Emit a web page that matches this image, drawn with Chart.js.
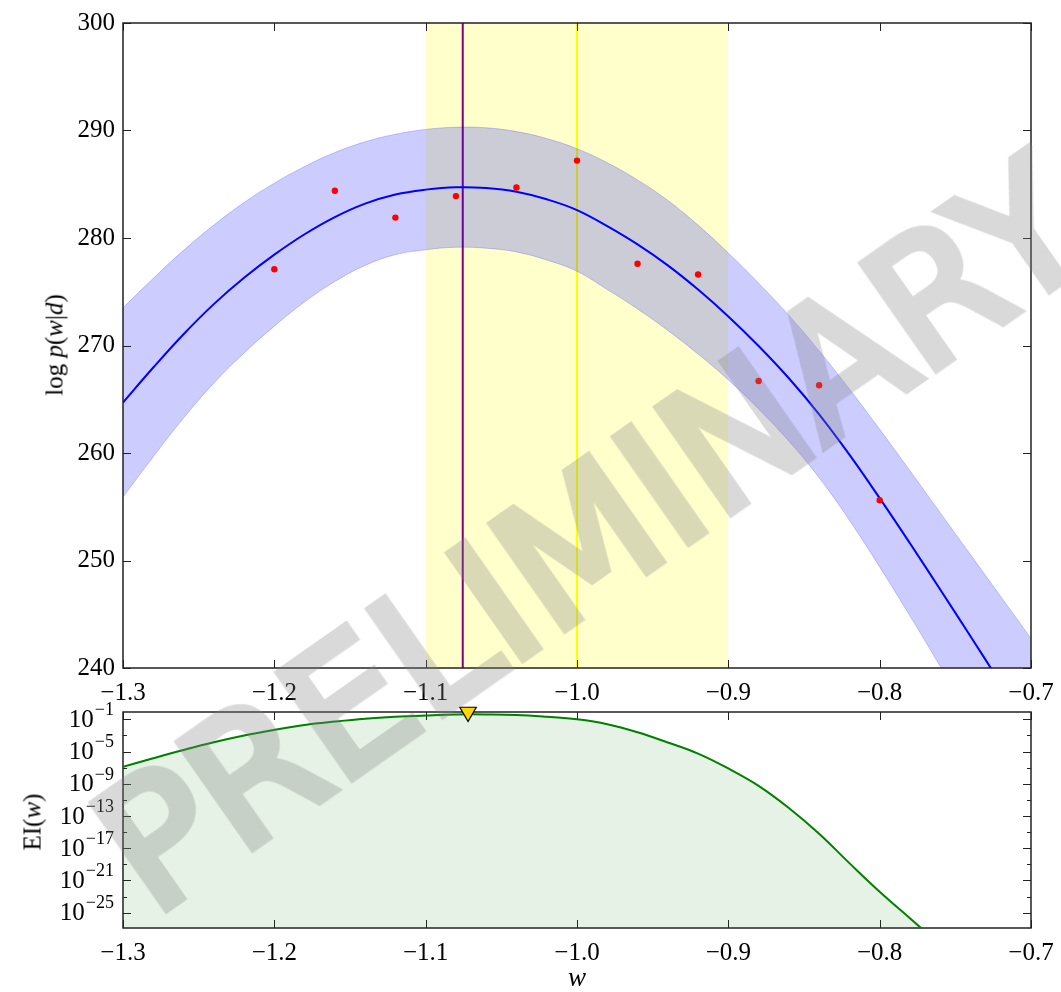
<!DOCTYPE html>
<html>
<head>
<meta charset="utf-8">
<script src="https://cdn.jsdelivr.net/npm/chart.js@4.4.1/dist/chart.umd.min.js"></script>
<style>
  html, body { margin: 0; padding: 0; background: #fff; }
  #wrap { position: relative; width: 1061px; height: 992px; overflow: hidden; }
  #top { position: absolute; left: 0; top: 0; }
  #bot { position: absolute; left: 0; top: 700px; }
  .ylab {
    position: absolute; transform: translate(-50%, -50%) rotate(-90deg);
    font-family: "Liberation Serif", "DejaVu Serif", serif; font-size: 25px; line-height: 1;
    color: #000; white-space: nowrap;
  }
  #mark {
    position: absolute; left: 592px; top: 536px;
    transform: translate(-50%, -50%) rotate(-35deg);
    font-family: "DejaVu Sans"; font-size: 175px; line-height: 1;
    color: #808080; -webkit-text-stroke: 9px #808080; opacity: 0.3;
    white-space: nowrap; pointer-events: none;
  }
</style>
</head>
<body>
<div id="wrap">
  <canvas id="top" width="1061" height="705"></canvas>
  <canvas id="bot" width="1061" height="292"></canvas>
  <div class="ylab" style="left:54px; top:345px;">log <i>p</i>(<i>w</i>|<i>d</i>)</div>
  <div class="ylab" style="left:32px; top:822px;">EI(<i>w</i>)</div>
  <div id="mark">PRELIMINARY</div>
</div>
<script>
// grid of w where the posterior curves were read
const wGrid = [-1.30, -1.28, -1.26, -1.24, -1.22, -1.20, -1.18, -1.16, -1.14, -1.12, -1.10,
  -1.08, -1.06, -1.04, -1.02, -1.00, -0.98, -0.96, -0.94, -0.92, -0.90,
  -0.88, -0.86, -0.84, -0.82, -0.80, -0.78, -0.76, -0.74, -0.72, -0.70];
const meanLogP = [264.7, 267.95, 271.05, 273.85, 276.3, 278.45, 280.35, 281.95, 283.2, 284.05, 284.5,
  284.72, 284.65, 284.3, 283.6, 282.6, 281.1, 279.4, 277.45, 275.2, 272.7,
  269.95, 266.95, 263.6, 259.85, 255.8, 251.6, 247.3, 242.95, 238.55, 234.1];
const upperLogP = [273.5, 276.25, 278.85, 281.2, 283.3, 285.1, 286.65, 287.95, 288.95, 289.65, 290.1,
  290.3, 290.25, 289.9, 289.25, 288.3, 287.0, 285.4, 283.5, 281.2, 278.6,
  275.8, 272.8, 269.5, 265.95, 262.2, 258.35, 254.45, 250.55, 246.65, 242.75];
const lowerLogP = [255.9, 259.65, 263.25, 266.5, 269.3, 271.8, 274.05, 275.95, 277.45, 278.45, 278.9,
  279.14, 279.05, 278.7, 277.95, 276.9, 275.2, 273.4, 271.4, 269.2, 266.8,
  264.1, 261.1, 257.7, 253.75, 249.4, 244.85, 240.15, 235.35, 230.45, 225.45];

// observed samples (red dots)
const obsW = [-1.20, -1.16, -1.12, -1.08, -1.04, -1.00, -0.96, -0.92, -0.88, -0.84, -0.80];
const obsLogP = [277.1, 284.4, 281.9, 283.9, 284.7, 287.2, 277.6, 276.6, 266.7, 266.3, 255.6];

// expected improvement, log10 values
const eiLog10 = [-6.9, -5.83, -4.8, -3.84, -3.0, -2.3, -1.69, -1.27, -0.92, -0.68, -0.52,
  -0.40, -0.39, -0.45, -0.68, -1.0, -1.6, -2.6, -3.87, -5.25, -7.1,
  -9.25, -12.0, -15.2, -18.85, -22.4, -25.7, -29.0, -32.4, -35.8, -39.2];

const spanW = [-1.1, -0.9];
const bestW = -1.0755;
const currentW = -1.0;
const nextW = -1.072;

const xTicks = [-1.3, -1.2, -1.1, -1.0, -0.9, -0.8, -0.7];
const yTicksTop = [240, 250, 260, 270, 280, 290, 300];
const eiTickExp = [-1, -5, -9, -13, -17, -21, -25];
const eiMinorExp = [-3, -7, -11, -15, -19, -23];
const eiRange = [-26.9, -0.09];

const SERIF = '"Liberation Serif", "DejaVu Serif", serif';
const pts = (xs, ys) => xs.map((x, i) => ({ x: x, y: ys[i] }));
const fmtW = v => (v < 0 ? '\u2212' : '') + Math.abs(v).toFixed(1);

function drawFrame(chart, opts) {
  const { ctx, chartArea: a } = chart;
  const xs = chart.scales.x, ys = chart.scales.y;
  ctx.save();
  ctx.strokeStyle = '#222';
  ctx.lineWidth = 1;
  ctx.beginPath();
  xTicks.forEach(v => {
    const p = Math.round(xs.getPixelForValue(v)) + 0.5;
    ctx.moveTo(p, a.bottom); ctx.lineTo(p, a.bottom - 8);
    ctx.moveTo(p, a.top); ctx.lineTo(p, a.top + 8);
  });
  const yt = (v, len) => {
    const p = Math.round(ys.getPixelForValue(v)) + 0.5;
    ctx.moveTo(a.left, p); ctx.lineTo(a.left + len, p);
    ctx.moveTo(a.right, p); ctx.lineTo(a.right - len, p);
  };
  opts.yMajor.forEach(v => yt(v, 8));
  (opts.yMinor || []).forEach(v => yt(v, 4));
  ctx.stroke();
  ctx.lineWidth = 1.5;
  ctx.strokeRect(a.left, a.top, a.width, a.height);
  ctx.restore();
}

const frameTicks = {
  id: 'frameTicks',
  beforeDatasetsDraw(chart, args, opts) { if (opts.under) drawFrame(chart, opts); },
  afterDatasetsDraw(chart, args, opts) { if (!opts.under) drawFrame(chart, opts); }
};

// log tick labels drawn as 10 with a raised exponent
const logLabels = {
  id: 'logLabels',
  afterDraw(chart) {
    const ys = chart.scales.y, ctx = chart.ctx;
    ctx.save();
    ctx.fillStyle = '#000';
    ctx.textAlign = 'right';
    ctx.textBaseline = 'middle';
    eiTickExp.forEach(e => {
      const p = ys.getPixelForValue(Math.pow(10, e));
      const sup = '\u2212' + Math.abs(e);
      ctx.font = '18px ' + SERIF;
      const sw = ctx.measureText(sup).width;
      ctx.fillText(sup, 114, p - 9);
      ctx.font = '25px ' + SERIF;
      ctx.fillText('10', 113 - sw, p + 1);
    });
    ctx.restore();
  }
};

const xScale = (h, title) => ({
  type: 'linear', min: -1.3, max: -0.7,
  afterBuildTicks: s => { s.ticks = xTicks.map(v => ({ value: v })); },
  afterFit: s => { s.height = h; s.paddingLeft = 0; s.paddingRight = 0; },
  grid: { display: false, drawTicks: false },
  border: { display: false },
  ticks: { padding: 10, autoSkip: false, maxRotation: 0, color: '#000',
    font: { family: SERIF, size: 25 }, callback: v => fmtW(v) },
  title: title
});

new Chart(document.getElementById('top'), {
  type: 'line',
  data: {
    datasets: [
      { data: pts(obsW, obsLogP), showLine: false, pointRadius: 3.2, pointBackgroundColor: '#ff0000',
        pointBorderWidth: 0, order: 0 },
      { data: pts(wGrid, meanLogP), borderColor: '#0000ff', borderWidth: 2, pointRadius: 0,
        tension: 0.4, order: 1 },
      { data: pts(wGrid, upperLogP), borderColor: 'rgba(0,0,255,0.2)', borderWidth: 1, pointRadius: 0,
        backgroundColor: 'rgba(0,0,255,0.2)', fill: '+1', tension: 0.4, order: 2 },
      { data: pts(wGrid, lowerLogP), borderColor: 'rgba(0,0,255,0.2)', borderWidth: 1, pointRadius: 0,
        fill: false, tension: 0.4, order: 2 },
      { data: [{ x: bestW, y: 240 }, { x: bestW, y: 300 }], borderColor: '#800080', borderWidth: 2,
        pointRadius: 0, order: 3 },
      { data: [{ x: currentW, y: 240 }, { x: currentW, y: 300 }], borderColor: '#ffff00', borderWidth: 2,
        pointRadius: 0, order: 3 },
      { data: [{ x: spanW[0], y: 300 }, { x: spanW[1], y: 300 }], borderWidth: 0, pointRadius: 0,
        backgroundColor: 'rgba(255,255,0,0.2)', fill: 'start', order: 4 }
    ]
  },
  options: {
    responsive: false, animation: false, events: [],
    layout: { padding: { top: 21, right: 30, left: 0, bottom: 0 } },
    plugins: { legend: { display: false }, tooltip: { enabled: false },
      frameTicks: { under: false, yMajor: yTicksTop } },
    scales: {
      x: xScale(37, { display: false }),
      y: {
        type: 'linear', min: 240, max: 300,
        afterBuildTicks: s => { s.ticks = yTicksTop.map(v => ({ value: v })); },
        afterFit: s => { s.width = 123; },
        grid: { display: false, drawTicks: false },
        border: { display: false },
        ticks: { padding: 8, color: '#000', font: { family: SERIF, size: 25 } }
      }
    }
  },
  plugins: [frameTicks]
});

new Chart(document.getElementById('bot'), {
  type: 'line',
  data: {
    datasets: [
      { data: [{ x: nextW, y: Math.pow(10, eiRange[1]) }], showLine: false, pointStyle: 'triangle',
        rotation: 180, pointRadius: 9.5, pointBackgroundColor: '#ffd700', pointBorderColor: '#000',
        pointBorderWidth: 1.2, clip: false, order: 0 },
      { data: pts(wGrid, eiLog10.map(e => Math.pow(10, e))), borderColor: '#008000', borderWidth: 2,
        pointRadius: 0, backgroundColor: 'rgba(0,128,0,0.1)', fill: 'start',
        tension: 0.4, order: 1 }
    ]
  },
  options: {
    responsive: false, animation: false, events: [],
    layout: { padding: { top: 12, right: 30, left: 0, bottom: 0 } },
    plugins: { legend: { display: false }, tooltip: { enabled: false },
      frameTicks: { under: true, yMajor: eiTickExp.map(e => Math.pow(10, e)),
        yMinor: eiMinorExp.map(e => Math.pow(10, e)) } },
    scales: {
      x: xScale(64, { display: true, text: 'w', color: '#000',
        font: { family: SERIF, size: 27, style: 'italic', lineHeight: 1.0 }, padding: { top: 0, bottom: 0 } }),
      y: {
        type: 'logarithmic', min: Math.pow(10, eiRange[0]), max: Math.pow(10, eiRange[1]),
        afterFit: s => { s.width = 123; },
        grid: { display: false, drawTicks: false },
        border: { display: false },
        ticks: { display: false }
      }
    }
  },
  plugins: [frameTicks, logLabels]
});
</script>
</body>
</html>
